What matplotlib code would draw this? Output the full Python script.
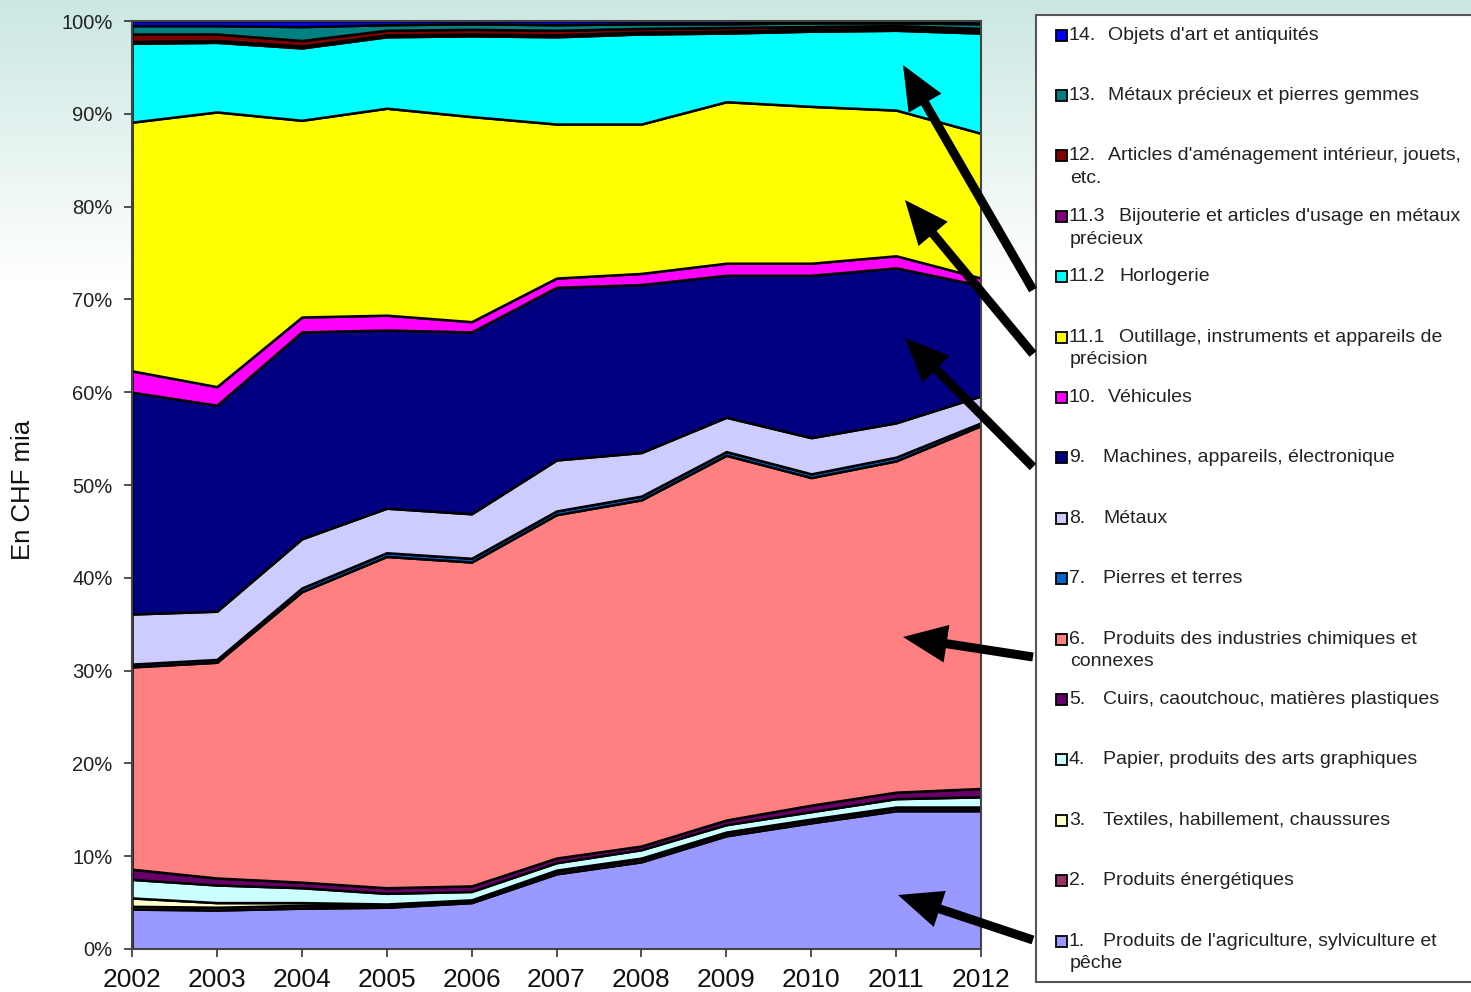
import numpy as np
import matplotlib
matplotlib.use("Agg")
import matplotlib.pyplot as plt
from matplotlib.patches import Rectangle, FancyArrow

plt.rcParams['font.family'] = ['Liberation Sans', 'DejaVu Sans']

# =========================
# DATA (shares in %)
# =========================
years = [2002, 2003, 2004, 2005, 2006, 2007, 2008, 2009, 2010, 2011, 2012]

agriculture = [4.3, 4.2, 4.4, 4.5, 5.0, 8.1, 9.4, 12.2, 13.6, 14.9, 14.9]
energie     = [0.3, 0.3, 0.3, 0.2, 0.2, 0.3, 0.3, 0.3, 0.3, 0.3, 0.3]
textiles    = [0.9, 0.5, 0.3, 0.15, 0.1, 0.1, 0.1, 0.1, 0.1, 0.1, 0.1]
papier      = [2.0, 1.9, 1.6, 1.15, 0.9, 0.8, 0.9, 0.8, 0.8, 0.9, 1.1]
cuirs       = [1.1, 0.75, 0.6, 0.6, 0.6, 0.5, 0.4, 0.5, 0.7, 0.7, 0.9]
chimie      = [21.8, 23.25, 31.3, 35.7, 34.9, 37.0, 37.3, 39.3, 35.3, 35.7, 39.1]
pierres     = [0.3, 0.3, 0.4, 0.4, 0.4, 0.4, 0.4, 0.4, 0.4, 0.4, 0.3]
metaux      = [5.4, 5.2, 5.3, 4.8, 4.8, 5.5, 4.7, 3.7, 3.9, 3.7, 2.9]
machines    = [23.9, 22.2, 22.3, 19.2, 19.6, 18.6, 18.1, 15.3, 17.5, 16.7, 11.9]
vehicules   = [2.3, 2.0, 1.6, 1.6, 1.1, 1.0, 1.2, 1.3, 1.3, 1.3, 0.8]
precision   = [26.8, 29.6, 21.2, 22.3, 22.1, 16.6, 16.1, 17.4, 16.9, 15.7, 15.6]
horlogerie  = [8.5, 7.5, 7.8, 7.7, 8.7, 9.4, 9.7, 7.4, 8.1, 8.6, 10.8]
bijouterie  = [0.2, 0.2, 0.2, 0.2, 0.2, 0.2, 0.2, 0.2, 0.2, 0.2, 0.2]
amenagement = [0.8, 0.7, 0.6, 0.5, 0.5, 0.5, 0.4, 0.4, 0.3, 0.3, 0.3]
metaux_prec = [0.9, 0.9, 1.5, 0.6, 0.6, 0.6, 0.5, 0.4, 0.4, 0.3, 0.5]
objets_art  = [0.5, 0.5, 0.6, 0.4, 0.3, 0.4, 0.3, 0.3, 0.2, 0.2, 0.3]

series = [agriculture, energie, textiles, papier, cuirs, chimie, pierres, metaux,
          machines, vehicules, precision, horlogerie, bijouterie, amenagement,
          metaux_prec, objets_art]
colors = ["#9999FF", "#993366", "#FFFFCC", "#CCFFFF", "#660066", "#FF8080",
          "#0066CC", "#CCCCFF", "#000080", "#FF00FF", "#FFFF00", "#00FFFF",
          "#800080", "#800000", "#008080", "#0000FF"]

# legend entries, top to bottom: (number, description lines)
legend_nums = ["14.", "13.", "12.", "11.3", "11.2", "11.1", "10.", "9.", "8.",
               "7.", "6.", "5.", "4.", "3.", "2.", "1."]
legend_txt = [
    ["Objets d'art et antiquités"],
    ["Métaux précieux et pierres gemmes"],
    ["Articles d'aménagement intérieur, jouets,", "etc."],
    ["Bijouterie et articles d'usage en métaux", "précieux"],
    ["Horlogerie"],
    ["Outillage, instruments et appareils de", "précision"],
    ["Véhicules"],
    ["Machines, appareils, électronique"],
    ["Métaux"],
    ["Pierres et terres"],
    ["Produits des industries chimiques et", "connexes"],
    ["Cuirs, caoutchouc, matières plastiques"],
    ["Papier, produits des arts graphiques"],
    ["Textiles, habillement, chaussures"],
    ["Produits énergétiques"],
    ["Produits de l'agriculture, sylviculture et", "pêche"],
]

W, H = 1471, 992
fig = plt.figure(figsize=(W / 100, H / 100), dpi=100)

# slide background gradient
bg = fig.add_axes([0, 0, 1, 1], zorder=-10)
top = np.array([0xCB, 0xE7, 0xE2]) / 255.0
t = np.clip(np.linspace(0, 1, H) / 0.28, 0, 1)[:, None]
grad = top[None, :] * (1 - t) + np.ones(3)[None, :] * t
bg.imshow(np.repeat(grad[:, None, :], 10, axis=1), aspect="auto", extent=[0, 1, 0, 1])
bg.axis("off")

# =========================
# MAIN CHART
# =========================
ax = fig.add_axes([132 / W, (H - 949) / H, 849 / W, 928 / H], zorder=1)
ax.stackplot(years, *series, colors=colors, edgecolor="black", linewidth=1.8)
ax.set_xlim(2002, 2012)
ax.set_ylim(0, 100)
ax.set_yticks(range(0, 101, 10))
ax.set_yticklabels([f"{v}%" for v in range(0, 101, 10)])
ax.set_xticks(years)
ax.tick_params(axis="y", labelsize=14.5, length=6, width=1.2, pad=8, colors="#333333", labelcolor="#222222")
ax.tick_params(axis="x", labelsize=19, length=6, width=1.2, pad=8, colors="#333333", labelcolor="#111111")
for s in ax.spines.values():
    s.set_color("#444444")
    s.set_linewidth(1.5)
fig.text(23 / W, 1 - 490 / H, "En CHF mia", rotation=90, fontsize=18.5,
         ha="center", va="center", color="#111111")

# =========================
# LEGEND + ARROWS (pixel overlay)
# =========================
ov = fig.add_axes([0, 0, 1, 1], zorder=5)
ov.set_xlim(0, W)
ov.set_ylim(H, 0)
ov.axis("off")
ov.patch.set_alpha(0)

ov.add_patch(Rectangle((1036, 15), 460, 967, facecolor="white", edgecolor="#555555", lw=1.5))
leg_colors = colors[::-1]
fs = 14
for i, (num, lines) in enumerate(zip(legend_nums, legend_txt)):
    yc = 35 + i * 60.4
    ov.add_patch(Rectangle((1056, yc - 5.5), 11, 11, facecolor=leg_colors[i],
                           edgecolor="black", lw=1.3))
    ov.text(1069, yc, num, fontsize=fs, va="center", ha="left", color="#222222")
    if num.startswith("11"):
        x0 = 1119
    elif len(num) == 3:
        x0 = 1108
    else:
        x0 = 1103
    ov.text(x0, yc, lines[0], fontsize=fs, va="center", ha="left", color="#222222")
    if len(lines) > 1:
        ov.text(1070, yc + 23, lines[1], fontsize=fs, va="center", ha="left", color="#222222")

arrows = [((1033, 290), (903, 65)),
          ((1033, 354), (905, 200)),
          ((1033, 467), (905, 338)),
          ((1033, 657), (903, 637)),
          ((1033, 940), (898, 895))]
for (x0, y0), (x1, y1) in arrows:
    ov.add_patch(FancyArrow(x0, y0, x1 - x0, y1 - y0, width=9, head_width=38,
                            head_length=44, length_includes_head=True,
                            color="black", lw=0))

fig.savefig("out.png", dpi=100)
